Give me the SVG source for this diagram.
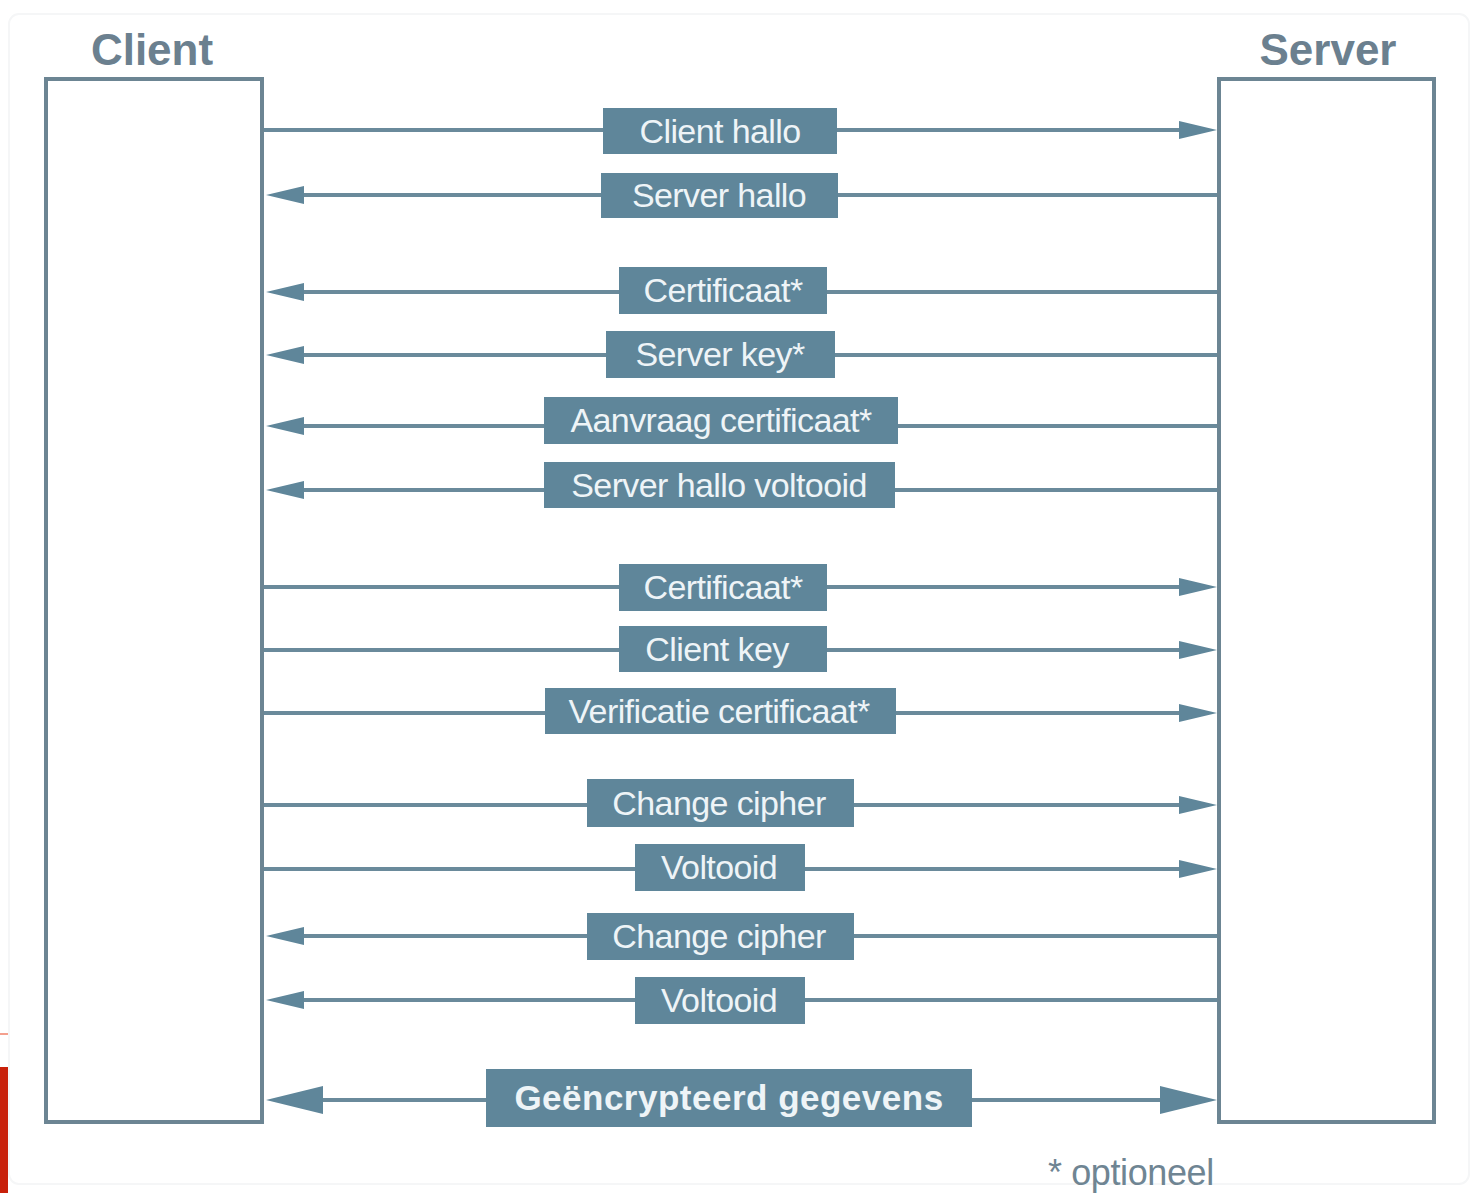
<svg xmlns="http://www.w3.org/2000/svg" width="1476" height="1193" viewBox="0 0 1476 1193">
<style>
.bg{fill:#ffffff}
.frame{fill:none;stroke:#f5f6f7;stroke-width:2}
.party{fill:#ffffff;stroke:#6c8593;stroke-width:4}
.title{font-family:"Liberation Sans",Arial,sans-serif;font-weight:bold;font-size:44px;fill:#6b808f;text-anchor:middle}
.lbl{fill:#5f869a}
.lt{font-family:"Liberation Sans",Arial,sans-serif;font-size:34px;letter-spacing:-0.6px;fill:#eef4f7;text-anchor:middle}
.lb{font-family:"Liberation Sans",Arial,sans-serif;font-weight:bold;font-size:35px;letter-spacing:0.5px;fill:#eef4f7;text-anchor:middle}
.msg{stroke:#6a8a9b;stroke-width:4;fill:none}
.note{font-family:"Liberation Sans",Arial,sans-serif;font-size:36px;letter-spacing:-0.4px;fill:#6f8593}
</style>
<defs>
<marker id="ah" markerUnits="userSpaceOnUse" viewBox="0 0 38 18" refX="8" refY="9" markerWidth="38" markerHeight="18" orient="auto-start-reverse">
<path d="M0,0 L38,9 L0,18 Z" fill="#5f869a"/>
</marker>
<marker id="ahb" markerUnits="userSpaceOnUse" viewBox="0 0 57 28" refX="10" refY="14" markerWidth="57" markerHeight="28" orient="auto-start-reverse">
<path d="M0,0 L57,14 L0,28 Z" fill="#5f869a"/>
</marker>
</defs>
<rect class="bg" x="0" y="0" width="1476" height="1193"/>
<rect class="frame" x="9" y="14" width="1460" height="1170" rx="10"/>
<rect x="0" y="1067" width="8" height="126" fill="#c8200a"/>
<rect x="0" y="1033" width="8" height="2" fill="#f4a08e"/>

<g id="client">
<text class="title" x="152" y="65">Client</text>
<rect class="party" x="46" y="79" width="216" height="1043"/>
</g>
<g id="server">
<text class="title" x="1328" y="65">Server</text>
<rect class="party" x="1219" y="79" width="215" height="1043"/>
</g>

<g id="connectors">
<line class="msg" x1="264" y1="130" x2="1187" y2="130" marker-end="url(#ah)"/>
<line class="msg" x1="1217" y1="195" x2="296" y2="195" marker-end="url(#ah)"/>
<line class="msg" x1="1217" y1="292" x2="296" y2="292" marker-end="url(#ah)"/>
<line class="msg" x1="1217" y1="355" x2="296" y2="355" marker-end="url(#ah)"/>
<line class="msg" x1="1217" y1="426" x2="296" y2="426" marker-end="url(#ah)"/>
<line class="msg" x1="1217" y1="490" x2="296" y2="490" marker-end="url(#ah)"/>
<line class="msg" x1="264" y1="587" x2="1187" y2="587" marker-end="url(#ah)"/>
<line class="msg" x1="264" y1="650" x2="1187" y2="650" marker-end="url(#ah)"/>
<line class="msg" x1="264" y1="713" x2="1187" y2="713" marker-end="url(#ah)"/>
<line class="msg" x1="264" y1="805" x2="1187" y2="805" marker-end="url(#ah)"/>
<line class="msg" x1="264" y1="869" x2="1187" y2="869" marker-end="url(#ah)"/>
<line class="msg" x1="1217" y1="936" x2="296" y2="936" marker-end="url(#ah)"/>
<line class="msg" x1="1217" y1="1000" x2="296" y2="1000" marker-end="url(#ah)"/>
<line class="msg" x1="313" y1="1100" x2="1170" y2="1100" marker-start="url(#ahb)" marker-end="url(#ahb)"/>
</g>

<g id="m1"><rect class="lbl" x="603" y="108" width="234" height="46"/><text class="lt" x="720" y="143">Client hallo</text></g>
<g id="m2"><rect class="lbl" x="601" y="173" width="237" height="45"/><text class="lt" x="719" y="207">Server hallo</text></g>
<g id="m3"><rect class="lbl" x="619" y="267" width="208" height="47"/><text class="lt" x="723" y="302">Certificaat*</text></g>
<g id="m4"><rect class="lbl" x="606" y="331" width="229" height="47"/><text class="lt" x="720" y="366">Server key*</text></g>
<g id="m5"><rect class="lbl" x="544" y="397" width="354" height="47"/><text class="lt" x="721" y="432">Aanvraag certificaat*</text></g>
<g id="m6"><rect class="lbl" x="544" y="462" width="351" height="46"/><text class="lt" x="719" y="497">Server hallo voltooid</text></g>
<g id="m7"><rect class="lbl" x="619" y="564" width="208" height="47"/><text class="lt" x="723" y="599">Certificaat*</text></g>
<g id="m8"><rect class="lbl" x="619" y="626" width="208" height="46"/><text class="lt" x="717" y="661">Client key</text></g>
<g id="m9"><rect class="lbl" x="545" y="688" width="351" height="46"/><text class="lt" x="719" y="723">Verificatie certificaat*</text></g>
<g id="m10"><rect class="lbl" x="587" y="779" width="267" height="48"/><text class="lt" x="719" y="815">Change cipher</text></g>
<g id="m11"><rect class="lbl" x="635" y="844" width="170" height="47"/><text class="lt" x="719" y="879">Voltooid</text></g>
<g id="m12"><rect class="lbl" x="587" y="913" width="267" height="47"/><text class="lt" x="719" y="948">Change cipher</text></g>
<g id="m13"><rect class="lbl" x="635" y="977" width="170" height="47"/><text class="lt" x="719" y="1012">Voltooid</text></g>
<g id="m14"><rect class="lbl" x="486" y="1069" width="486" height="58"/><text class="lb" x="729" y="1110">Geëncrypteerd gegevens</text></g>

<g id="legend"><text class="note" x="1048" y="1185">* optioneel</text></g>
</svg>
